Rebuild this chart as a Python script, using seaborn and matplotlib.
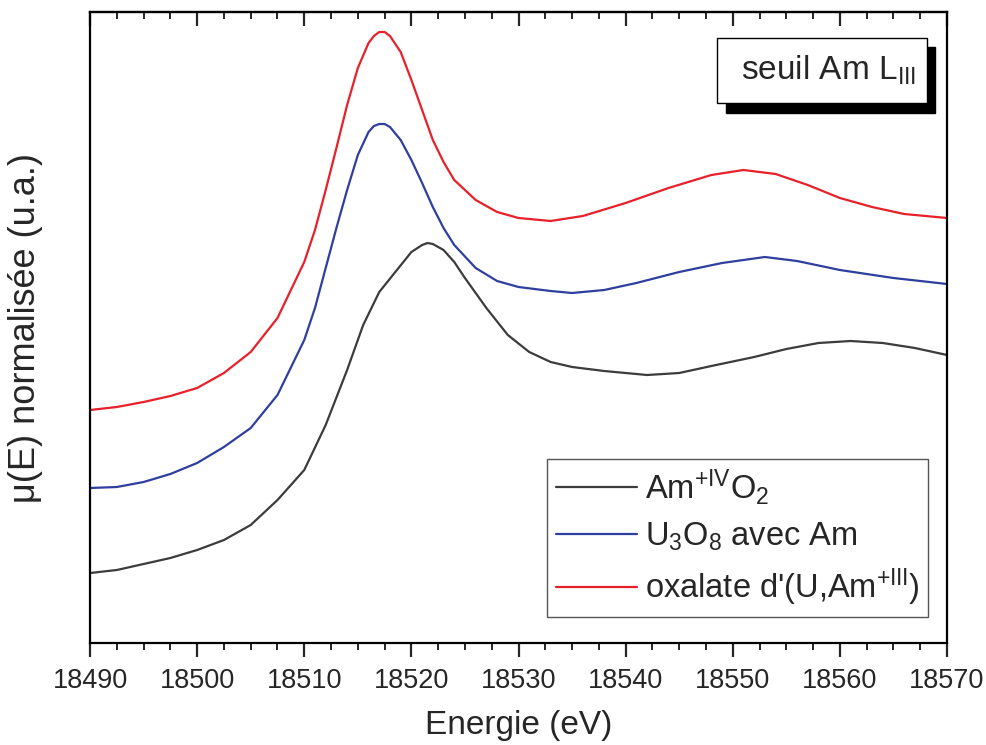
import numpy as np
import pandas as pd
import matplotlib
matplotlib.use("Agg")
import matplotlib.pyplot as plt
from matplotlib.patches import Rectangle
from matplotlib.ticker import MultipleLocator
import seaborn as sns

# Data (arbitrary units, heights above axis bottom)
e_ox = [18490, 18492.5, 18495, 18497.5, 18500, 18502.5, 18505, 18507.5, 18510, 18511,
        18512, 18513, 18514, 18515, 18516, 18516.5, 18517, 18517.5, 18518, 18519,
        18520, 18521, 18522, 18523, 18524, 18526, 18528, 18530, 18533, 18536,
        18540, 18544, 18548, 18551, 18554, 18557, 18560, 18563, 18566, 18570]
mu_ox = [2.33, 2.36, 2.41, 2.47, 2.55, 2.70, 2.91, 3.25, 3.81, 4.13,
         4.53, 4.95, 5.38, 5.75, 6.00, 6.07, 6.11, 6.11, 6.07, 5.91,
         5.63, 5.33, 5.03, 4.81, 4.63, 4.43, 4.31, 4.25, 4.22, 4.27,
         4.40, 4.55, 4.68, 4.73, 4.69, 4.58, 4.45, 4.36, 4.29, 4.25]

e_u3o8 = [18490, 18492.5, 18495, 18497.5, 18500, 18502.5, 18505, 18507.5, 18510, 18511,
          18512, 18513, 18514, 18515, 18516, 18516.5, 18517, 18517.5, 18518, 18519,
          18520, 18521, 18522, 18523, 18524, 18526, 18528, 18530, 18533, 18535,
          18538, 18541, 18545, 18549, 18553, 18556, 18560, 18565, 18570]
mu_u3o8 = [1.55, 1.56, 1.61, 1.69, 1.80, 1.96, 2.15, 2.48, 3.03, 3.35,
           3.75, 4.15, 4.53, 4.88, 5.11, 5.17, 5.19, 5.19, 5.16, 5.03,
           4.83, 4.60, 4.36, 4.15, 3.98, 3.75, 3.62, 3.56, 3.52, 3.50,
           3.53, 3.60, 3.71, 3.80, 3.86, 3.82, 3.73, 3.65, 3.59]

e_amo2 = [18490, 18492.5, 18495, 18497.5, 18500, 18502.5, 18505, 18507.5, 18510, 18512,
          18514, 18515.5, 18517, 18518.5, 18520, 18521, 18521.5, 18522, 18523, 18524,
          18525, 18527, 18529, 18531, 18533, 18535, 18538, 18542, 18545, 18548,
          18552, 18555, 18558, 18561, 18564, 18567, 18570]
mu_amo2 = [0.70, 0.73, 0.79, 0.85, 0.93, 1.03, 1.18, 1.43, 1.73, 2.18,
           2.73, 3.18, 3.51, 3.71, 3.91, 3.98, 4.00, 3.99, 3.93, 3.81,
           3.65, 3.35, 3.08, 2.91, 2.81, 2.76, 2.72, 2.68, 2.70, 2.77,
           2.86, 2.94, 3.00, 3.02, 3.00, 2.95, 2.88]

labels = ["Am$^{+IV}$O$_2$", "U$_3$O$_8$ avec Am", "oxalate d'(U,Am$^{+III}$)"]
colors = ["#3c3c3c", "#2f3f9e", "#e8202a"]

df = pd.concat([
    pd.DataFrame({"E": e_amo2, "mu": mu_amo2, "sample": labels[0]}),
    pd.DataFrame({"E": e_u3o8, "mu": mu_u3o8, "sample": labels[1]}),
    pd.DataFrame({"E": e_ox, "mu": mu_ox, "sample": labels[2]}),
])

sns.set_style("ticks")
plt.rcParams["font.family"] = ["Liberation Sans", "DejaVu Sans"]
plt.rcParams["mathtext.default"] = "regular"

fig = plt.figure(figsize=(9.87, 7.45), dpi=100)
ax = fig.add_axes([0.0912, 0.1369, 0.8683, 0.847])

sns.lineplot(data=df, x="E", y="mu", hue="sample", hue_order=labels,
             palette=dict(zip(labels, colors)), linewidth=1.6, ax=ax,
             estimator=None, sort=True)

ax.set_xlim(18490, 18570)
ax.set_ylim(0, 6.31)
ax.xaxis.set_major_locator(MultipleLocator(10))
ax.xaxis.set_minor_locator(MultipleLocator(2.5))
ax.set_yticks([])

for s in ax.spines.values():
    s.set_visible(True)
    s.set_linewidth(1.6)
    s.set_color("black")

ax.tick_params(axis="x", which="major", direction="out", length=10, width=1.6,
               labelsize=19.5, pad=8, top=False)
ax.tick_params(axis="x", which="minor", direction="out", length=5, width=1.4, top=False)

# inward ticks on top spine
top = ax.secondary_xaxis("top")
top.xaxis.set_major_locator(MultipleLocator(10))
top.xaxis.set_minor_locator(MultipleLocator(2.5))
top.tick_params(axis="x", which="major", direction="in", length=10, width=1.6, labeltop=False)
top.tick_params(axis="x", which="minor", direction="in", length=5, width=1.4)
top.spines["top"].set_linewidth(1.6)

ax.set_xlabel("Energie (eV)", fontsize=24)
ax.set_ylabel("μ(E) normalisée (u.a.)", fontsize=26)
ax.xaxis.set_label_coords(0.5, -0.106)
ax.yaxis.set_label_coords(-0.055, 0.5)

leg = ax.legend(loc="lower right", bbox_to_anchor=(0.978, 0.042), borderaxespad=0,
                fontsize=23.5, handlelength=2.5, handletextpad=0.25, labelspacing=0.42,
                frameon=True, fancybox=False, edgecolor="#555555", framealpha=1,
                borderpad=0.25)
leg.get_frame().set_linewidth(1.0)
for line in leg.get_lines():
    line.set_linewidth(1.6)

# "seuil Am L_III" box with drop shadow
ax.add_patch(Rectangle((0.7421, 0.840), 0.2439, 0.1045, transform=ax.transAxes,
                       facecolor="black", edgecolor="black", zorder=5))
ax.add_patch(Rectangle((0.7316, 0.8558), 0.2451, 0.103, transform=ax.transAxes,
                       facecolor="white", edgecolor="black", linewidth=1.0, zorder=6))
ax.text(0.8611, 0.907, "seuil Am L$_{III}$", transform=ax.transAxes,
        ha="center", va="center", fontsize=24, zorder=7)

fig.savefig("out.png", dpi=100)
